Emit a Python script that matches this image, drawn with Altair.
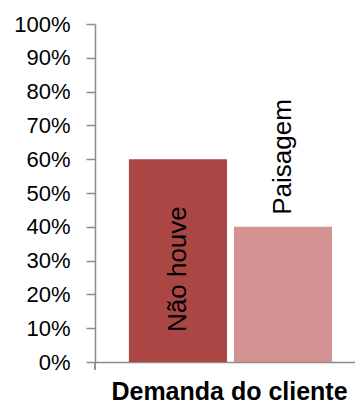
import altair as alt
import pandas as pd

categories = ["Não houve", "Paisagem"]
values = [0.60, 0.40]
colors = ["#AA4744", "#D39291"]
y_ticks = [0.0, 0.1, 0.2, 0.3, 0.4, 0.5, 0.6, 0.7, 0.8, 0.9, 1.0]
x_title = "Demanda do cliente"

df = pd.DataFrame({"serie": categories, "valor": values})

W, H = 260, 338
FONT = "Liberation Sans"
AXIS_GREY = "#8c8c8c"

x_axis = alt.Axis(
    labels=False,
    ticks=False,
    domainColor=AXIS_GREY,
    domainWidth=1.5,
    titleFont=FONT,
    titleFontSize=25,
    titleFontWeight="bold",
    titleColor="#000000",
    titleX=134,
    titleY=37,
    titleBaseline="alphabetic",
)
x_scale = alt.Scale(paddingInner=0.0667, paddingOuter=0.2708, align=0.596)

y_axis = alt.Axis(
    values=y_ticks,
    format=".0%",
    title=None,
    grid=False,
    tickSize=9,
    tickColor=AXIS_GREY,
    tickWidth=1.5,
    domainColor=AXIS_GREY,
    domainWidth=1.5,
    labelFont=FONT,
    labelFontSize=22,
    labelColor="#000000",
    labelPadding=16,
    labelOverlap=False,
)
y_scale = alt.Scale(domain=[0, 1], nice=False)


def xe():
    return alt.X("serie:N", sort=categories, title=x_title, scale=x_scale, axis=x_axis)


def ye(field):
    return alt.Y(field, title=None, scale=y_scale, axis=y_axis)


bars = alt.Chart(df).mark_bar().encode(
    x=xe(),
    y=ye("valor:Q"),
    color=alt.Color("serie:N", sort=categories,
                    scale=alt.Scale(domain=categories, range=colors), legend=None),
)

# rotated text: dx moves the label upward on screen
label1 = alt.Chart(df).transform_filter(
    alt.datum.serie == categories[0]
).transform_calculate(
    base="0"
).mark_text(
    angle=270, align="left", baseline="middle", font=FONT, fontSize=26,
    color="#000000", dx=30,
).encode(
    x=xe(),
    y=ye("base:Q"),
    text="serie:N",
)

label2 = alt.Chart(df).transform_filter(
    alt.datum.serie == categories[1]
).mark_text(
    angle=270, align="left", baseline="middle", font=FONT, fontSize=26,
    color="#000000", dx=12,
).encode(
    x=xe(),
    y=ye("valor:Q"),
    text="serie:N",
)

corner_tick = alt.Chart(df).mark_rule(color=AXIS_GREY, strokeWidth=1.5).encode(
    x=alt.value(0), y=alt.value(H), y2=alt.value(H + 8)
)

chart = alt.layer(bars, label1, label2, corner_tick).properties(
    width=W,
    height=H,
    autosize=alt.AutoSizeParams(type="none"),
    padding={"left": 87, "top": 16, "right": 0, "bottom": 43},
).configure_view(stroke=None)

chart.save("out.html", embed_options={"renderer": "svg", "actions": False})
